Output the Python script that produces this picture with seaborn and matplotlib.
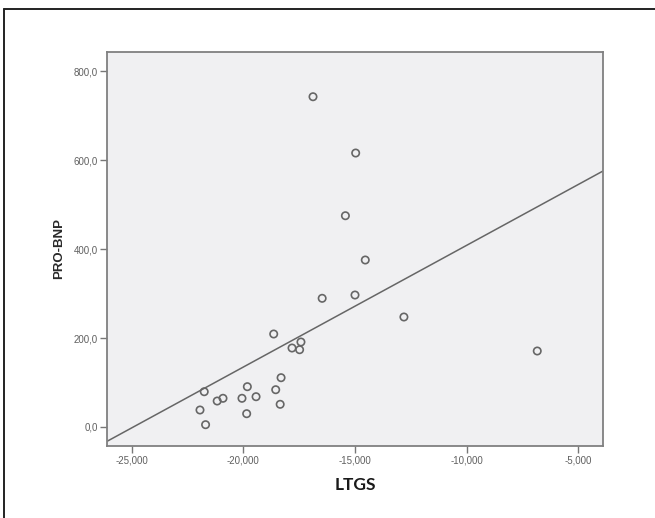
import numpy as np
import pandas as pd
import matplotlib
matplotlib.use("Agg")
import matplotlib.pyplot as plt
import matplotlib.ticker as mticker
from matplotlib.lines import Line2D
import seaborn as sns

# Data
ltgs = [-16.88, -14.97, -15.43, -14.54, -16.47, -15.00, -12.81, -6.84,
        -18.64, -17.42, -17.82, -17.48, -18.31, -19.82, -18.55, -21.75,
        -19.43, -20.91, -20.06, -21.17, -18.35, -21.94, -19.85, -21.69]
probnp = [742.2, 615.7, 474.8, 375.3, 289.2, 296.6, 247.2, 170.8,
          209.0, 191.0, 177.5, 173.7, 110.8, 90.6, 83.8, 79.3,
          68.1, 64.5, 64.5, 58.4, 51.0, 38.2, 29.9, 5.2]
x_ticks = [-25, -20, -15, -10, -5]
y_ticks = [0, 200, 400, 600, 800]

df = pd.DataFrame({"LTGS": ltgs, "PRO-BNP": probnp})

sns.set_style("white")
tick_font = ["Liberation Sans Narrow", "Liberation Sans", "DejaVu Sans"]

fig = plt.figure(figsize=(6.55, 5.18), dpi=100)
ax = fig.add_axes([107.3 / 655, (518 - 446) / 518, 495.4 / 655, 394.3 / 518])
ax.set_facecolor("#f0f0f2")

xlim = (-26.09, -3.91)
ylim = (-42.7, 843.4)
ax.set_xlim(xlim)
ax.set_ylim(ylim)

sns.regplot(data=df, x="LTGS", y="PRO-BNP", ax=ax, scatter=False, ci=None,
            truncate=False, line_kws=dict(color="#666666", lw=1.1))
sns.scatterplot(data=df, x="LTGS", y="PRO-BNP", ax=ax, s=28,
                facecolor="none", edgecolor="#666666", linewidth=1.2,
                marker="o", zorder=3)
ax.set_xlim(xlim)
ax.set_ylim(ylim)

ax.set_xticks(x_ticks)
ax.set_yticks(y_ticks)
ax.xaxis.set_major_formatter(mticker.FuncFormatter(lambda v, p: f"{v:.3f}".replace(".", ",")))
ax.yaxis.set_major_formatter(mticker.FuncFormatter(lambda v, p: f"{v:.1f}".replace(".", ",")))
ax.tick_params(axis="both", direction="out", length=5, width=1, color="#777777",
               labelsize=7, labelcolor="#606060", left=True, bottom=True, pad=2)
for lab in ax.get_xticklabels() + ax.get_yticklabels():
    lab.set_family(tick_font)
    lab.set_stretch("condensed")

for sp in ax.spines.values():
    sp.set_color("#808080")
    sp.set_linewidth(1.3)

ax.set_xlabel("LTGS", fontsize=12.5, fontweight="bold", family=["Lato", "DejaVu Sans"],
              color="#1a1a1a", labelpad=8)
ax.set_ylabel("PRO-BNP", fontsize=9.5, fontweight="bold", family=["Liberation Sans", "DejaVu Sans"],
              color="#2a2a2a", labelpad=6)

# outer frame (left and top edges)
fig.add_artist(Line2D([4 / 655, 4 / 655], [0, 1 - 8.7 / 518], transform=fig.transFigure,
                      color="#222222", lw=1.4))
fig.add_artist(Line2D([4 / 655, 1], [1 - 8.7 / 518, 1 - 8.7 / 518], transform=fig.transFigure,
                      color="#222222", lw=1.4))

fig.savefig("out.png", dpi=100, facecolor="white")
